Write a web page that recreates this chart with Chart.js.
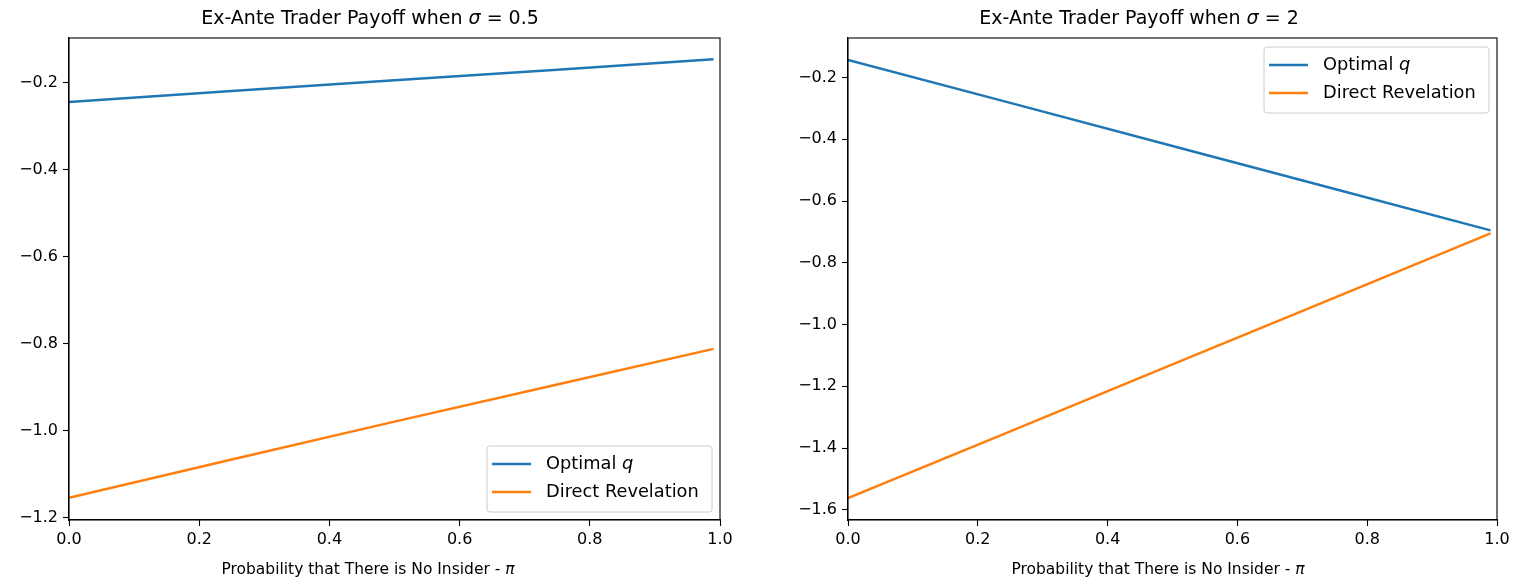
<!DOCTYPE html>
<html lang="en">
<head>
<meta charset="UTF-8">
<title>Ex-Ante Trader Payoff</title>
<script src="https://cdn.jsdelivr.net/npm/chart.js"></script>
<style>
  body { margin: 0; background: #fff; }
  .wrap { position: absolute; top: 0; width: 764px; height: 582px; }
  #w1 { left: 0; }
  #w2 { left: 764px; }
</style>
</head>
<body>
<div class="wrap" id="w1"><canvas id="c1" width="764" height="582"></canvas></div>
<div class="wrap" id="w2"><canvas id="c2" width="764" height="582"></canvas></div>
<script>
// probability that there is no insider (pi)
const piValues = [0, 0.25, 0.5, 0.75, 0.99];

// sigma = 0.5
const optimalQ1 = [-0.245, -0.220, -0.195, -0.171, -0.147];
const directRev1 = [-1.154, -1.066, -0.979, -0.894, -0.812];

// sigma = 2
const optimalQ2 = [-0.143, -0.282, -0.422, -0.561, -0.695];
const directRev2 = [-1.562, -1.346, -1.129, -0.913, -0.705];

const xTicks = [0, 0.2, 0.4, 0.6, 0.8, 1.0];
const yTicks1 = [-1.2, -1.0, -0.8, -0.6, -0.4, -0.2];
const yTicks2 = [-1.6, -1.4, -1.2, -1.0, -0.8, -0.6, -0.4, -0.2];

const FONT = '"DejaVu Sans", sans-serif';
const BLUE = '#1f77b4';
const ORANGE = '#ff7f0e';

function pts(xs, ys) {
  return xs.map((x, i) => ({ x: x, y: ys[i] }));
}

// draws text made of pieces, some of them italic (the math symbols)
function richText(ctx, parts, x, y, size, align) {
  let total = 0;
  parts.forEach(p => {
    ctx.font = (p.i ? 'italic ' : '') + size + 'px ' + FONT;
    p.w = ctx.measureText(p.t).width;
    total += p.w;
  });
  let cx = align === 'center' ? x - total / 2 : x;
  ctx.textBaseline = 'middle';
  ctx.textAlign = 'left';
  ctx.fillStyle = '#000';
  parts.forEach(p => {
    ctx.font = (p.i ? 'italic ' : '') + size + 'px ' + FONT;
    ctx.fillText(p.t, cx, y);
    cx += p.w;
  });
}

const decor = {
  id: 'decor',
  afterDatasetsDraw(chart, args, opts) {
    const ctx = chart.ctx;
    const ca = chart.chartArea;
    ctx.save();
    // frame on all four sides
    ctx.strokeStyle = '#000';
    ctx.lineWidth = 1.1;
    ctx.strokeRect(ca.left, ca.top, ca.right - ca.left, ca.bottom - ca.top);

    richText(ctx, opts.title, opts.titleX, 19, 19, 'center');
    richText(ctx, [{ t: 'Probability that There is No Insider - ' }, { t: 'π', i: true }], opts.labelX, 570, 15.5, 'center');

    // legend box
    const bw = 225, bh = 66;
    const bx = ca.right - 8 - bw;
    const by = opts.legendTop ? ca.top + 9 : ca.bottom - 8 - bh;
    ctx.beginPath();
    ctx.roundRect(bx, by, bw, bh, 3);
    ctx.fillStyle = 'rgba(255,255,255,0.8)';
    ctx.fill();
    ctx.strokeStyle = '#cccccc';
    ctx.lineWidth = 1;
    ctx.stroke();
    const rows = [
      { c: BLUE, parts: [{ t: 'Optimal ' }, { t: 'q', i: true }] },
      { c: ORANGE, parts: [{ t: 'Direct Revelation' }] }
    ];
    rows.forEach((r, i) => {
      const ry = by + 18 + i * 28;
      ctx.beginPath();
      ctx.moveTo(bx + 5, ry);
      ctx.lineTo(bx + 44, ry);
      ctx.strokeStyle = r.c;
      ctx.lineWidth = 2.5;
      ctx.stroke();
      richText(ctx, r.parts, bx + 59, ry, 17.8, 'left');
    });
    ctx.restore();
  }
};

function makeChart(id, blue, orange, yTicks, yMin, yMax, yWidth, padRight, title, titleX, labelX, legendTop) {
  return new Chart(document.getElementById(id), {
    type: 'line',
    data: {
      datasets: [
        { label: 'Optimal q', data: pts(piValues, blue), borderColor: BLUE, borderWidth: 2.5, pointRadius: 0, tension: 0 },
        { label: 'Direct Revelation', data: pts(piValues, orange), borderColor: ORANGE, borderWidth: 2.5, pointRadius: 0, tension: 0 }
      ]
    },
    plugins: [decor],
    options: {
      responsive: false,
      animation: false,
      events: [],
      layout: { padding: { top: 38, right: padRight, bottom: 0, left: 0 } },
      plugins: {
        legend: { display: false },
        tooltip: { enabled: false },
        decor: { title: title, titleX: titleX, labelX: labelX, legendTop: legendTop }
      },
      scales: {
        x: {
          type: 'linear',
          min: 0,
          max: 1,
          afterBuildTicks: s => { s.ticks = xTicks.map(v => ({ value: v })); },
          afterFit: s => { s.height = 62; },
          grid: { drawOnChartArea: false, drawTicks: true, tickLength: 6, tickColor: '#000', tickWidth: 1.1 },
          border: { color: '#000', width: 1.1 },
          ticks: { color: '#000', font: { family: FONT, size: 16 }, padding: 4, maxRotation: 0, autoSkip: false,
                   callback: v => v.toFixed(1) }
        },
        y: {
          type: 'linear',
          min: yMin,
          max: yMax,
          afterBuildTicks: s => { s.ticks = yTicks.map(v => ({ value: v })); },
          afterFit: s => { s.width = yWidth; },
          grid: { drawOnChartArea: false, drawTicks: true, tickLength: 6, tickColor: '#000', tickWidth: 1.1 },
          border: { color: '#000', width: 1.1 },
          ticks: { color: '#000', font: { family: FONT, size: 16 }, padding: 5, autoSkip: false,
                   callback: v => (v < 0 ? '\u2212' : '') + Math.abs(v).toFixed(1) }
        }
      }
    }
  });
}

makeChart('c1', optimalQ1, directRev1, yTicks1, -1.205, -0.098, 69, 44,
  [{ t: 'Ex-Ante Trader Payoff when ' }, { t: 'σ', i: true }, { t: ' = 0.5' }], 370, 368, false);
makeChart('c2', optimalQ2, directRev2, yTicks2, -1.633, -0.072, 84, 31,
  [{ t: 'Ex-Ante Trader Payoff when ' }, { t: 'σ', i: true }, { t: ' = 2' }], 375, 394, true);
</script>
</body>
</html>
